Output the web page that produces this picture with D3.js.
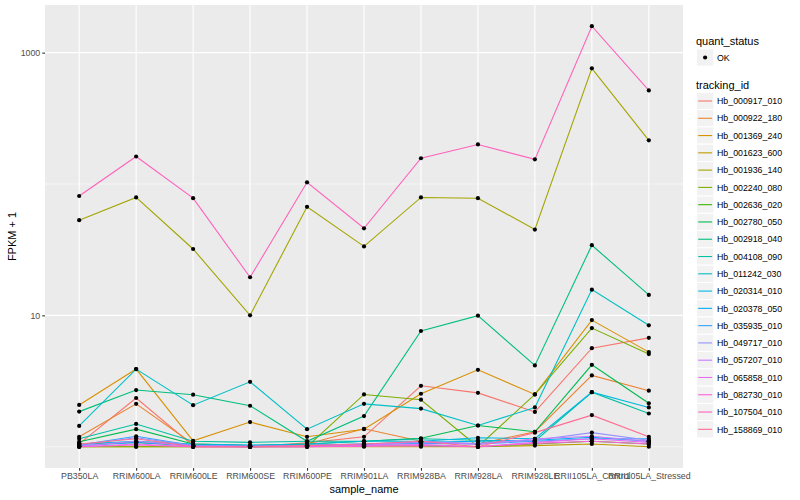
<!DOCTYPE html>
<html><head><meta charset="utf-8">
<script src="https://cdn.jsdelivr.net/npm/d3@7"></script>
<style>
body{margin:0;background:#fff;}
text{font-family:"Liberation Sans",Arial,Helvetica,sans-serif;}
</style></head>
<body><svg id="chart" width="800" height="500"></svg>
<script>
const samples = ["PB350LA","RRIM600LA","RRIM600LE","RRIM600SE","RRIM600PE","RRIM901LA","RRIM928BA","RRIM928LA","RRIM928LE","RRII105LA_Control","RRII105LA_Stressed"];
const trackingIds = ["Hb_000917_010","Hb_000922_180","Hb_001369_240","Hb_001623_600","Hb_001936_140","Hb_002240_080","Hb_002636_020","Hb_002780_050","Hb_002918_040","Hb_004108_090","Hb_011242_030","Hb_020314_010","Hb_020378_050","Hb_035935_010","Hb_049717_010","Hb_057207_010","Hb_065858_010","Hb_082730_010","Hb_107504_010","Hb_158869_010"];
const colors = ["#F8766D","#EA8331","#D89000","#C09B00","#A3A500","#7CAE00","#39B600","#00BB4E","#00BF7D","#00C1A3","#00BFC4","#00BAE0","#00B0F6","#35A2FF","#9590FF","#C77CFF","#E76BF3","#FA62DB","#FF62BC","#FF6C91"];
const yTicks = [10, 1000];
const quantStatus = ["OK"];

// FPKM values per tracking_id, in sample order
const hb_000917_010 = [0.05,1.35,0.02,0,0.07,0.19,1.91,1.57,0.84,4.63,5.74];
const hb_000922_180 = [0.19,1.12,0.05,0.02,0.05,0.37,0.1,0.05,0.3,2.49,1.67];
const hb_001369_240 = [1.08,2.9,0.11,0.54,0.19,0.36,1.53,2.85,1.5,8.2,4.25];
const hb_001623_600 = [0,0,0,0,0,0,0,0,0.02,0.05,0];
const hb_001936_140 = [52,78,31,9,66,32.5,78,77,44,759,214];
const hb_002240_080 = [0,0,0,0,0,1.5,1.28,0,1.5,7.0,4.07];
const hb_002636_020 = [0.05,0.08,0.02,0,0.02,0.03,0.02,0,0.05,0.1,0.05];
const hb_002780_050 = [0.09,0.36,0.05,0.02,0.05,0.1,0.16,0.45,0.3,3.2,1.14];
const hb_002918_040 = [0.85,1.7,1.49,1.05,0.1,0.71,6.6,8.95,3.16,33.2,13.3];
const hb_004108_090 = [0.15,0.49,0.1,0.08,0.1,0.1,0.15,0.12,0.1,1.6,0.79];
const hb_011242_030 = [0.44,2.9,1.07,2.12,0.36,1.12,0.95,0.45,0.99,14.7,7.4];
const hb_020314_010 = [0.05,0.1,0.05,0.03,0.05,0.1,0.1,0.17,0.15,1.6,0.99];
const hb_020378_050 = [0.02,0.08,0.02,0,0.03,0.05,0.08,0.1,0.12,0.18,0.1];
const hb_035935_010 = [0.03,0.2,0.02,0.01,0.02,0.04,0.06,0.05,0.1,0.15,0.15];
const hb_049717_010 = [0.03,0.17,0.02,0.01,0.02,0.05,0.08,0.06,0.12,0.28,0.12];
const hb_057207_010 = [0.01,0.1,0.01,0,0.01,0.02,0.1,0.04,0.15,0.2,0.1];
const hb_065858_010 = [0,0.05,0,0,0,0.02,0.04,0,0.08,0.15,0.08];
const hb_082730_010 = [0,0.03,0,0,0,0.01,0.02,0,0.06,0.1,0.05];
const hb_107504_010 = [80,161,77,18.5,102,45,156,199,153,1589,515];
const hb_158869_010 = [0.05,0.15,0,0,0.02,0.05,0.1,0,0.28,0.74,0.19];

const seriesValues = [hb_000917_010,hb_000922_180,hb_001369_240,hb_001623_600,hb_001936_140,hb_002240_080,hb_002636_020,hb_002780_050,hb_002918_040,hb_004108_090,hb_011242_030,hb_020314_010,hb_020378_050,hb_035935_010,hb_049717_010,hb_057207_010,hb_065858_010,hb_082730_010,hb_107504_010,hb_158869_010];

const series = trackingIds.map((id,i)=>({id, color:colors[i], values: seriesValues[i].map((v,j)=>({sample:samples[j], fpkm:v}))}));

const svg = d3.select("#chart");
const P = {left:45, right:683, top:5, bottom:468};

const x = d3.scalePoint().domain(samples).range([P.left,P.right]).padding(0.6);
const y = d3.scaleLog().domain([Math.pow(10,-0.162), Math.pow(10,3.3627)]).range([P.bottom,P.top]);

// panel
svg.append("rect").attr("x",P.left).attr("y",P.top).attr("width",P.right-P.left).attr("height",P.bottom-P.top).attr("fill","#EBEBEB");
// minor horizontal grid
[1,100].forEach(v=>{
  svg.append("line").attr("x1",P.left).attr("x2",P.right).attr("y1",y(v)).attr("y2",y(v)).attr("stroke","#fff").attr("stroke-width",0.55);
});
yTicks.forEach(v=>{
  svg.append("line").attr("x1",P.left).attr("x2",P.right).attr("y1",y(v)).attr("y2",y(v)).attr("stroke","#fff").attr("stroke-width",1.1);
});
samples.forEach(s=>{
  svg.append("line").attr("x1",x(s)).attr("x2",x(s)).attr("y1",P.top).attr("y2",P.bottom).attr("stroke","#fff").attr("stroke-width",1.1);
});

const line = d3.line().x(d=>x(d.sample)).y(d=>y(d.fpkm+1));
const g = svg.append("g");
series.forEach(s=>{
  g.append("path").attr("d",line(s.values)).attr("fill","none").attr("stroke",s.color).attr("stroke-width",1.1);
});
series.forEach(s=>{
  g.selectAll(null).data(s.values).enter().append("circle")
    .attr("cx",d=>x(d.sample)).attr("cy",d=>y(d.fpkm+1)).attr("r",2.1).attr("fill","#000");
});

// axes
const yAxis = svg.append("g").attr("transform",`translate(${P.left},0)`)
  .call(d3.axisLeft(y).tickValues(yTicks).tickFormat(d3.format("d")).tickSize(2.74).tickPadding(2));
yAxis.select(".domain").remove();
yAxis.selectAll("line").attr("stroke","#333333").attr("stroke-width",1.1);
yAxis.selectAll("text").attr("fill","#4D4D4D").style("font-size","8.8px");

const xAxis = svg.append("g").attr("transform",`translate(0,${P.bottom})`)
  .call(d3.axisBottom(x).tickSize(2.74).tickPadding(2.5));
xAxis.select(".domain").remove();
xAxis.selectAll("line").attr("stroke","#333333").attr("stroke-width",1.1);
xAxis.selectAll("text").attr("fill","#4D4D4D").style("font-size","8.8px");

svg.append("text").attr("x",(P.left+P.right)/2).attr("y",493).attr("text-anchor","middle").style("font-size","11px").attr("fill","#000").text("sample_name");
svg.append("text").attr("transform",`translate(16,${(P.top+P.bottom)/2}) rotate(-90)`).attr("text-anchor","middle").style("font-size","11px").attr("fill","#000").text("FPKM + 1");

// legend
const L = svg.append("g");
const lx = 696;
L.append("text").attr("x",lx).attr("y",44.5).style("font-size","11px").attr("fill","#000").text("quant_status");
quantStatus.forEach((q,i)=>{
  const cy = 57.5;
  L.append("rect").attr("x",lx+0.5).attr("y",cy-8.64).attr("width",17.28).attr("height",17.28).attr("fill","#F2F2F2").attr("stroke","#fff");
  L.append("circle").attr("cx",lx+9.1).attr("cy",cy).attr("r",2.1).attr("fill","#000");
  L.append("text").attr("x",lx+21).attr("y",cy+3.2).style("font-size","8.8px").attr("fill","#000").text(q);
});
L.append("text").attr("x",lx).attr("y",88.5).style("font-size","11px").attr("fill","#000").text("tracking_id");
series.forEach((s,i)=>{
  const cy = 101 + i*17.28;
  L.append("rect").attr("x",lx+0.5).attr("y",cy-8.64).attr("width",17.28).attr("height",17.28).attr("fill","#F2F2F2").attr("stroke","#fff");
  L.append("line").attr("x1",lx+2.2).attr("x2",lx+16.1).attr("y1",cy).attr("y2",cy).attr("stroke",s.color).attr("stroke-width",1.1);
  L.append("text").attr("x",lx+21).attr("y",cy+3.2).style("font-size","8.8px").attr("fill","#000").text(s.id);
});
</script></body></html>
